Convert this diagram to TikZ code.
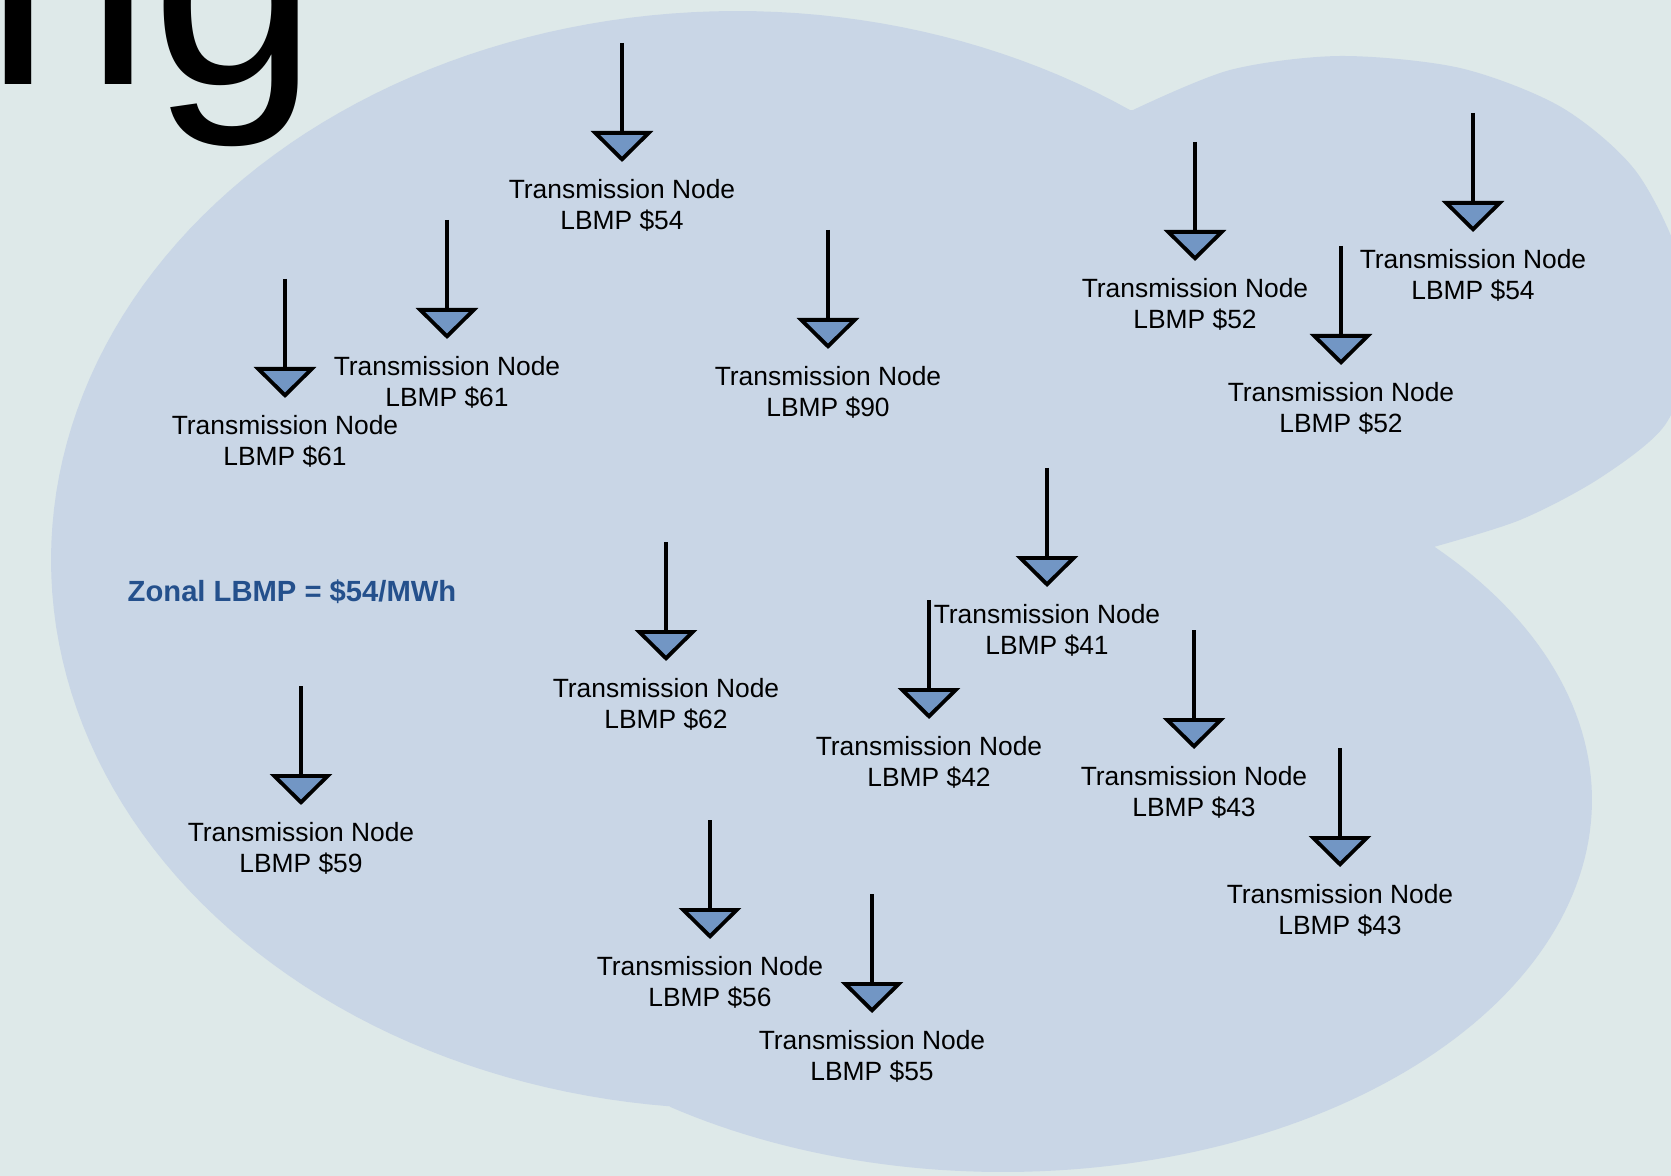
\documentclass[tikz,border=0pt]{standalone}
\usepackage{fontspec}
\setmainfont{Liberation Sans}
\usetikzlibrary{positioning, arrows.meta}

\definecolor{slidebg}{RGB}{222,233,233}
\definecolor{zonefill}{RGB}{201,214,230}
\definecolor{busfill}{RGB}{114,150,196}
\definecolor{zonetext}{RGB}{36,80,140}

\begin{document}
\begin{tikzpicture}[x=0.5pt,y=-0.5pt,node distance=68pt,
	feed/.style={line width=1.9pt, shorten >=8.5pt,
		-{Triangle[width=31pt,length=15.5pt,fill=busfill]}},
	price/.style={font=\fontsize{13.2}{15.5}\selectfont, align=center, inner sep=0pt}]

% Slide background
	\clip (0,0) rectangle (1671,1176);
	\fill[slidebg] (0,0) rectangle (1671,1176);

	\node (title) [anchor=base west, inner sep=0pt, font=\fontsize{150}{152}\selectfont] at (-16,85) {ng};

% Zone outline
	\fill[zonefill]
		plot[domain=95.6:305, samples=120] ({737+686*cos(\x)},{560+549*sin(\x)})
		-- plot[smooth] coordinates {(1133,110) (1230,70) (1340,56) (1460,68) (1561,107) (1635,170) (1680,260) (1690,350) (1665,425) (1600,478) (1520,520) (1430,548)}
		-- plot[domain=-43:124.4, samples=120] ({1003+589*cos(\x)},{800+372*sin(\x)})
		-- cycle;

	\node (zonal) [font=\fontsize{14.6}{17}\selectfont\bfseries, text=zonetext, inner sep=0pt] at (292,592) {Zonal LBMP = \$54/MWh};

% Feed points
	\coordinate (feed1) at (622,43);
	\coordinate (feed2) at (447,220);
	\coordinate (feed3) at (285,279);
	\coordinate (feed4) at (828,230);
	\coordinate (feed5) at (1195,142);
	\coordinate (feed6) at (1473,113);
	\coordinate (feed7) at (1341,246);
	\coordinate (feed8) at (1047,468);
	\coordinate (feed9) at (666,542);
	\coordinate (feed10) at (929,600);
	\coordinate (feed11) at (1194,630);
	\coordinate (feed12) at (1340,748);
	\coordinate (feed13) at (301,686);
	\coordinate (feed14) at (710,820);
	\coordinate (feed15) at (872,894);

% Transmission nodes
	\node (bus1)	[price, below=of feed1]		{Transmission Node\\LBMP \$54};
	\node (bus2)	[price, below=of feed2]		{Transmission Node\\LBMP \$61};
	\node (bus3)	[price, below=of feed3]		{Transmission Node\\LBMP \$61};
	\node (bus4)	[price, below=of feed4]		{Transmission Node\\LBMP \$90};
	\node (bus5)	[price, below=of feed5]		{Transmission Node\\LBMP \$52};
	\node (bus6)	[price, below=of feed6]		{Transmission Node\\LBMP \$54};
	\node (bus7)	[price, below=of feed7]		{Transmission Node\\LBMP \$52};
	\node (bus8)	[price, below=of feed8]		{Transmission Node\\LBMP \$41};
	\node (bus9)	[price, below=of feed9]		{Transmission Node\\LBMP \$62};
	\node (bus10)	[price, below=of feed10]	{Transmission Node\\LBMP \$42};
	\node (bus11)	[price, below=of feed11]	{Transmission Node\\LBMP \$43};
	\node (bus12)	[price, below=of feed12]	{Transmission Node\\LBMP \$43};
	\node (bus13)	[price, below=of feed13]	{Transmission Node\\LBMP \$59};
	\node (bus14)	[price, below=of feed14]	{Transmission Node\\LBMP \$56};
	\node (bus15)	[price, below=of feed15]	{Transmission Node\\LBMP \$55};

% Injection arrows
	\path[feed]
		(feed1)		edge (bus1)
		(feed2)		edge (bus2)
		(feed3)		edge (bus3)
		(feed4)		edge (bus4)
		(feed5)		edge (bus5)
		(feed6)		edge (bus6)
		(feed7)		edge (bus7)
		(feed8)		edge (bus8)
		(feed9)		edge (bus9)
		(feed10)	edge (bus10)
		(feed11)	edge (bus11)
		(feed12)	edge (bus12)
		(feed13)	edge (bus13)
		(feed14)	edge (bus14)
		(feed15)	edge (bus15)
	;

\end{tikzpicture}
\end{document}
